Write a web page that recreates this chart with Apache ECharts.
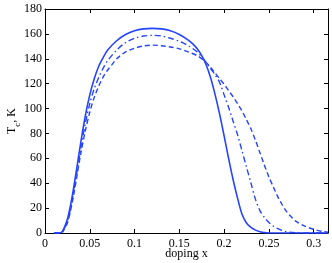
<!DOCTYPE html>
<html><head><meta charset="utf-8">
<script src="https://cdn.jsdelivr.net/npm/echarts@6/dist/echarts.min.js"></script>
<style>html,body{margin:0;padding:0;background:#fff}#c{width:332px;height:263px}</style>
</head><body><div id="c"></div>
<script>
const xTicks = [0, 0.05, 0.1, 0.15, 0.2, 0.25, 0.3];
const yTicks = [0, 20, 40, 60, 80, 100, 120, 140, 160, 180];

const solidX = [0.01,0.015,0.0175,0.02,0.025,0.03,0.035,0.04,0.045,0.05,0.055,0.06,0.065,0.07,0.08,0.09,0.1,0.11,0.12,0.13,0.14,0.15,0.16,0.165,0.17,0.175,0.18,0.185,0.19,0.195,0.2,0.205,0.21,0.215,0.22,0.225,0.23,0.235,0.24,0.245,0.25,0.28,0.316];
const solidY = [0,0,0.3,2,11,28,50,73,94,111,124,134,141,147,154.5,159.5,162.5,164,164.4,164,162.5,159.5,155,152,148,142.5,135,124.5,111,95.5,78,60,43,28,15,8,4.5,2.3,1,0.3,0,0,0];

const dashDotX = [0.01,0.015,0.018,0.02,0.025,0.03,0.035,0.04,0.045,0.05,0.055,0.06,0.065,0.07,0.08,0.09,0.1,0.11,0.12,0.13,0.14,0.15,0.16,0.17,0.175,0.18,0.185,0.19,0.195,0.2,0.205,0.21,0.215,0.22,0.225,0.23,0.235,0.24,0.245,0.25,0.255,0.26,0.265,0.27,0.28,0.29,0.316];
const dashDotY = [0,0,0.3,1.5,9,25,46,68,88,104,116,125,132.5,138.5,147,153,156.5,158.3,158.8,158.3,156.5,154,150.5,145.5,141.5,137,132,127,121,111,101,90,79,66,53,40,27,18,12.5,8.5,5.5,3.5,2,1,0.3,0,0];

const dashedX = [0.01,0.015,0.018,0.02,0.025,0.03,0.035,0.04,0.045,0.05,0.055,0.06,0.065,0.07,0.075,0.08,0.09,0.1,0.11,0.12,0.13,0.14,0.15,0.16,0.17,0.175,0.18,0.185,0.19,0.195,0.2,0.205,0.21,0.215,0.22,0.225,0.23,0.235,0.24,0.245,0.25,0.255,0.26,0.265,0.27,0.275,0.28,0.29,0.3,0.31,0.316];
const dashedY = [0,0,0.3,1.2,8,23,43,64,82,97,109,118,125.5,131,135.5,140,145.5,148.5,150.3,151,150.5,149.5,148,145.5,142.5,140,137,133,128.5,124,119.5,114.5,109.5,104,98,91,83.5,74.5,64.5,54.5,45,37,29,22.5,17,13,9.5,5.5,3,1.2,0.6];

const zip = (xs, ys) => xs.map((x, i) => [x, ys[i]]);
const blue = '#2444ff';
const font = 'Liberation Serif';
const fmt = v => String(+v.toFixed(2));

const chart = echarts.init(document.getElementById('c'), null, {renderer: 'canvas'});
const baseX = {
  type: 'value', min: 0, max: 0.316, interval: 0.05,
  axisLine: {show: true, onZero: false, lineStyle: {color: '#000', width: 1}},
  axisTick: {show: true, inside: true, length: 4, lineStyle: {color: '#000'}},
  splitLine: {show: false}
};
const baseY = {
  type: 'value', min: 0, max: 180, interval: 20,
  axisLine: {show: true, onZero: false, lineStyle: {color: '#000', width: 1}},
  axisTick: {show: true, inside: true, length: 4, lineStyle: {color: '#000'}},
  splitLine: {show: false}
};
chart.setOption({
  animation: false,
  backgroundColor: '#fff',
  grid: {left: 45, right: 4, top: 9, bottom: 30, containLabel: false, outerBoundsMode: 'none'},
  xAxis: [
    Object.assign({}, baseX, {
      position: 'bottom',
      name: 'doping x', nameLocation: 'middle', nameGap: 15, nameMoveOverlap: false,
      nameTextStyle: {fontFamily: font, fontSize: 12, color: '#000'},
      axisLabel: {fontFamily: font, fontSize: 12, color: '#000', margin: 5, showMaxLabel: false,
        formatter: v => xTicks.some(t => Math.abs(t - v) < 1e-9) ? fmt(v) : ''}
    }),
    Object.assign({}, baseX, {position: 'top', axisLabel: {show: false}})
  ],
  yAxis: [
    Object.assign({}, baseY, {
      position: 'left',
      name: 'T{s|c}, K', nameLocation: 'middle', nameGap: 27, nameRotate: 90, nameMoveOverlap: false,
      nameTextStyle: {fontFamily: font, fontSize: 12, color: '#000',
        rich: {s: {fontFamily: font, fontSize: 9, color: '#000', verticalAlign: 'bottom', padding: [0,0,-4,0]}}},
      axisLabel: {fontFamily: font, fontSize: 12, color: '#000', margin: 3,
        formatter: v => yTicks.includes(v) ? String(v) : ''}
    }),
    Object.assign({}, baseY, {position: 'right', axisLabel: {show: false}})
  ],
  series: [
    {type: 'line', data: zip(solidX, solidY), showSymbol: false, smooth: 0.3,
     lineStyle: {color: blue, width: 1.6, type: 'solid'}},
    {type: 'line', data: zip(dashDotX, dashDotY), showSymbol: false, smooth: 0.3,
     lineStyle: {color: blue, width: 1.4, type: [6, 3, 1.5, 3]}},
    {type: 'line', data: zip(dashedX, dashedY), showSymbol: false, smooth: 0.3,
     lineStyle: {color: blue, width: 1.4, type: [5, 3]}}
  ]
});
</script></body></html>
